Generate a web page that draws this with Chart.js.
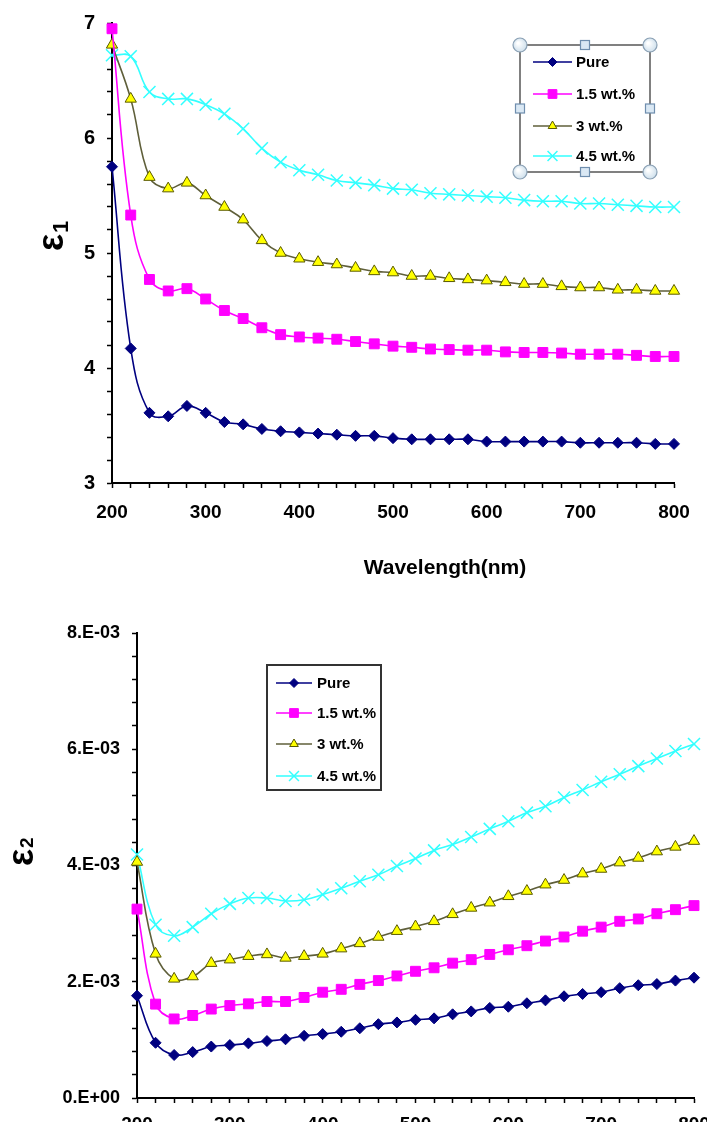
<!DOCTYPE html>
<html><head><meta charset="utf-8">
<script src="https://cdn.jsdelivr.net/npm/chart.js@4.4.1/dist/chart.umd.min.js"></script>
<style>
html,body{margin:0;padding:0;width:707px;height:1122px;overflow:hidden;background:#fff;}
#c1{position:absolute;left:0;top:0;}
#c2{position:absolute;left:0;top:600px;}
</style></head><body>
<canvas id="c1" width="707" height="600"></canvas>
<canvas id="c2" width="707" height="560"></canvas>
<script>
// ---- data ----
const wavelengths = [200,220,240,260,280,300,320,340,360,380,400,420,440,460,480,500,520,540,560,580,600,620,640,660,680,700,720,740,760,780,800];
const seriesNames = ['Pure','1.5 wt.%','3 wt.%','4.5 wt.%'];

// epsilon_1 (real part)
const eps1Pure = [5.75,4.17,3.61,3.58,3.67,3.61,3.53,3.51,3.47,3.45,3.44,3.43,3.42,3.41,3.41,3.39,3.38,3.38,3.38,3.38,3.36,3.36,3.36,3.36,3.36,3.35,3.35,3.35,3.35,3.34,3.34];
const eps1W15  = [6.95,5.33,4.77,4.67,4.69,4.60,4.50,4.43,4.35,4.29,4.27,4.26,4.25,4.23,4.21,4.19,4.18,4.165,4.16,4.155,4.155,4.14,4.135,4.135,4.13,4.12,4.12,4.12,4.11,4.10,4.10];
const eps1W3   = [6.81,6.34,5.66,5.56,5.61,5.50,5.40,5.29,5.11,5.00,4.95,4.92,4.90,4.87,4.84,4.83,4.80,4.80,4.78,4.77,4.76,4.745,4.73,4.73,4.71,4.70,4.70,4.68,4.68,4.67,4.67];
const eps1W45  = [6.72,6.71,6.40,6.34,6.34,6.29,6.21,6.08,5.91,5.79,5.72,5.68,5.63,5.61,5.59,5.56,5.55,5.52,5.51,5.50,5.49,5.48,5.46,5.45,5.45,5.43,5.43,5.42,5.41,5.40,5.40];

// epsilon_2 (imaginary part), in units of 1E-03
const eps2Unit = 1e-3;
const eps2Pure = [1.76,0.95,0.74,0.79,0.885,0.91,0.94,0.98,1.01,1.07,1.10,1.14,1.20,1.27,1.30,1.345,1.37,1.44,1.49,1.55,1.57,1.63,1.68,1.75,1.79,1.82,1.89,1.94,1.96,2.02,2.07];
const eps2W15  = [3.25,1.615,1.36,1.42,1.53,1.59,1.62,1.66,1.66,1.73,1.82,1.87,1.955,2.02,2.10,2.18,2.24,2.32,2.38,2.47,2.55,2.62,2.70,2.77,2.87,2.94,3.04,3.08,3.17,3.24,3.31];
const eps2W3   = [4.06,2.48,2.05,2.09,2.32,2.38,2.44,2.47,2.41,2.44,2.48,2.57,2.66,2.77,2.87,2.95,3.04,3.16,3.27,3.36,3.47,3.56,3.67,3.75,3.86,3.94,4.05,4.13,4.24,4.32,4.42];
const eps2W45  = [4.19,2.98,2.79,2.94,3.17,3.34,3.44,3.44,3.39,3.41,3.50,3.61,3.73,3.84,3.99,4.12,4.26,4.36,4.49,4.63,4.76,4.91,5.02,5.17,5.30,5.44,5.57,5.71,5.84,5.97,6.09];

// tick labels
const xTickLabels = ['200','300','400','500','600','700','800'];
const eps1TickLabels = ['3','4','5','6','7'];
const eps2TickLabels = ['0.E+00','2.E-03','4.E-03','6.E-03','8.E-03'];
const xTitle = 'Wavelength(nm)';

// ---- styles ----
const FONT = "'Liberation Sans', Arial, sans-serif";
const styles = [
  {line:'#000080', fill:'#000080', stroke:'#000080', point:'rectRot', r:5.5, lr:4.5, bw:1},
  {line:'#ff00ff', fill:'#ff00ff', stroke:'#ff00ff', point:'rect', r:7, lr:6.2, bw:1},
  {line:'#5f5f3a', fill:'#ffff00', stroke:'#5a5a00', point:'triangle', r:6.5, lr:5, bw:1},
  {line:'#33ffff', fill:'#33ffff', stroke:'#33ffff', point:'crossRot', r:8.5, lr:7, bw:1.5}
];

function buildDatasets(arrays, scale) {
  return arrays.map((arr, i) => {
    const s = styles[i];
    return {
      label: seriesNames[i],
      data: arr.map((v, k) => ({x: wavelengths[k], y: v * scale})),
      borderColor: s.line, borderWidth: 1.6,
      pointStyle: s.point, pointRadius: s.r,
      pointBackgroundColor: s.fill, pointBorderColor: s.stroke, pointBorderWidth: s.bw,
      tension: 0.4, clip: false, fill: false
    };
  });
}

function drawMarker(ctx, style, x, y, r, fill, stroke, lw) {
  ctx.save();
  ctx.beginPath();
  if (style === 'rectRot') {
    ctx.moveTo(x, y - r); ctx.lineTo(x + r, y); ctx.lineTo(x, y + r); ctx.lineTo(x - r, y); ctx.closePath();
  } else if (style === 'rect') {
    const s = r * Math.SQRT1_2; ctx.rect(x - s, y - s, 2 * s, 2 * s);
  } else if (style === 'triangle') {
    let a = 0;
    ctx.moveTo(x + Math.sin(a) * r, y - Math.cos(a) * r);
    a += 2 * Math.PI / 3; ctx.lineTo(x + Math.sin(a) * r, y - Math.cos(a) * r);
    a += 2 * Math.PI / 3; ctx.lineTo(x + Math.sin(a) * r, y - Math.cos(a) * r);
    ctx.closePath();
  } else if (style === 'crossRot') {
    const d = r * Math.SQRT1_2;
    ctx.moveTo(x - d, y - d); ctx.lineTo(x + d, y + d);
    ctx.moveTo(x + d, y - d); ctx.lineTo(x - d, y + d);
  }
  if (style !== 'crossRot') { ctx.fillStyle = fill; ctx.fill(); }
  ctx.strokeStyle = stroke; ctx.lineWidth = lw; ctx.stroke();
  ctx.restore();
}

function drawLegend(ctx, box, rowsY, lineX0, lineX1, textX, borderColor) {
  ctx.save();
  ctx.fillStyle = '#fff';
  ctx.fillRect(box.x0, box.y0, box.x1 - box.x0, box.y1 - box.y0);
  ctx.strokeStyle = borderColor; ctx.lineWidth = 2;
  ctx.strokeRect(box.x0, box.y0, box.x1 - box.x0, box.y1 - box.y0);
  ctx.font = 'bold 15px ' + FONT;
  ctx.textBaseline = 'middle'; ctx.textAlign = 'left';
  seriesNames.forEach((name, i) => {
    const s = styles[i], y = rowsY[i];
    ctx.beginPath(); ctx.moveTo(lineX0, y); ctx.lineTo(lineX1, y);
    ctx.strokeStyle = s.line; ctx.lineWidth = 1.6; ctx.stroke();
    drawMarker(ctx, s.point, (lineX0 + lineX1) / 2, y, s.lr, s.fill, s.stroke, s.bw);
    ctx.fillStyle = '#000';
    ctx.fillText(name, textX, y + 1);
  });
  ctx.restore();
}

function drawHandles(ctx, box) {
  const mx = (box.x0 + box.x1) / 2, my = (box.y0 + box.y1) / 2;
  ctx.save();
  [[box.x0, box.y0], [box.x1, box.y0], [box.x0, box.y1], [box.x1, box.y1]].forEach(([x, y]) => {
    const g = ctx.createRadialGradient(x - 2, y - 2, 1, x, y, 7);
    g.addColorStop(0, '#ffffff'); g.addColorStop(1, '#cfe0ec');
    ctx.beginPath(); ctx.arc(x, y, 7, 0, Math.PI * 2);
    ctx.fillStyle = g; ctx.fill();
    ctx.strokeStyle = '#8aa0b4'; ctx.lineWidth = 1.2; ctx.stroke();
  });
  [[mx, box.y0], [box.x0, my], [box.x1, my], [mx, box.y1]].forEach(([x, y]) => {
    ctx.fillStyle = '#dae8f4'; ctx.fillRect(x - 4.5, y - 4.5, 9, 9);
    ctx.strokeStyle = '#6f8eae'; ctx.lineWidth = 1.2; ctx.strokeRect(x - 4.5, y - 4.5, 9, 9);
  });
  ctx.restore();
}

function drawEpsTitle(ctx, baseX, startY, sub, subDrop, subSize) {
  ctx.save();
  ctx.translate(baseX, startY);
  ctx.rotate(-Math.PI / 2);
  ctx.fillStyle = '#000';
  ctx.textBaseline = 'alphabetic'; ctx.textAlign = 'left';
  ctx.font = 'bold 36px ' + FONT;
  ctx.fillText('\u03b5', 0, 0);
  const w = ctx.measureText('\u03b5').width;
  ctx.font = 'bold ' + subSize + 'px ' + FONT;
  ctx.fillText(sub, w + 1, subDrop);
  ctx.restore();
}

function axisOpts(o) {
  return {
    type: 'linear', min: o.min, max: o.max,
    border: {display: true, color: '#000', width: 2},
    grid: {drawOnChartArea: false, drawTicks: true, tickLength: 5, tickColor: '#000', tickWidth: 1.5, color: '#000'},
    ticks: {
      stepSize: o.step, autoSkip: false, maxRotation: 0, minRotation: 0,
      color: '#000', padding: o.pad,
      font: {family: FONT, weight: 'bold', size: o.size},
      callback: o.cb
    },
    afterFit: o.fit
  };
}

// ---- chart 1 : epsilon_1 ----
const plugin1 = {
  id: 'deco1',
  afterDraw(chart) {
    const ctx = chart.ctx;
    ctx.save();
    ctx.fillStyle = '#000';
    ctx.font = 'bold 21px ' + FONT;
    ctx.textAlign = 'center'; ctx.textBaseline = 'middle';
    ctx.fillText(xTitle, 445, 568);
    ctx.restore();
    drawEpsTitle(ctx, 63, 251, '1', 5, 22);
    const box = {x0: 520, y0: 45, x1: 650, y1: 172};
    drawLegend(ctx, box, [62, 94, 126, 156], 533, 572, 576, '#808080');
    drawHandles(ctx, box);
  }
};

new Chart(document.getElementById('c1'), {
  type: 'line',
  data: {datasets: buildDatasets([eps1Pure, eps1W15, eps1W3, eps1W45], 1)},
  options: {
    responsive: false, animation: false, events: [],
    layout: {padding: {left: 0, right: 33, top: 23, bottom: 0}},
    plugins: {legend: {display: false}, tooltip: {enabled: false}},
    scales: {
      x: axisOpts({min: 200, max: 800, step: 20, pad: 13, size: 19,
        cb: v => { const i = Math.round((v - 200) / 100); return Math.abs(v - 200 - i * 100) < 1e-6 ? xTickLabels[i] : ''; },
        fit: s => { s.height = 117; s.paddingLeft = 0; s.paddingRight = 0; }}),
      y: axisOpts({min: 3, max: 7, step: 0.2, pad: 12, size: 20,
        cb: v => { const i = Math.round(v - 3); return Math.abs(v - 3 - i) < 1e-6 ? eps1TickLabels[i] : ''; },
        fit: s => { s.width = 112; s.paddingTop = 0; s.paddingBottom = 0; }})
    }
  },
  plugins: [plugin1]
});

// ---- chart 2 : epsilon_2 ----
const plugin2 = {
  id: 'deco2',
  afterDraw(chart) {
    const ctx = chart.ctx;
    drawEpsTitle(ctx, 33, 266, '2', 0, 19);
    const box = {x0: 267, y0: 65, x1: 381, y1: 190};
    drawLegend(ctx, box, [83, 113, 144, 176], 276, 312, 317, '#333333');
  }
};

new Chart(document.getElementById('c2'), {
  type: 'line',
  data: {datasets: buildDatasets([eps2Pure, eps2W15, eps2W3, eps2W45], eps2Unit)},
  options: {
    responsive: false, animation: false, events: [],
    layout: {padding: {left: 0, right: 13, top: 33, bottom: 0}},
    plugins: {legend: {display: false}, tooltip: {enabled: false}},
    scales: {
      x: axisOpts({min: 200, max: 800, step: 20, pad: 10, size: 19,
        cb: v => { const i = Math.round((v - 200) / 100); return Math.abs(v - 200 - i * 100) < 1e-6 ? xTickLabels[i] : ''; },
        fit: s => { s.height = 62; s.paddingLeft = 0; s.paddingRight = 0; }}),
      y: axisOpts({min: 0, max: 8 * eps2Unit, step: 0.4 * eps2Unit, pad: 12, size: 18,
        cb: v => { const k = v / (2 * eps2Unit); const i = Math.round(k); return Math.abs(k - i) < 1e-6 ? eps2TickLabels[i] : ''; },
        fit: s => { s.width = 137; s.paddingTop = 0; s.paddingBottom = 0; }})
    }
  },
  plugins: [plugin2]
});
</script>
</body></html>
